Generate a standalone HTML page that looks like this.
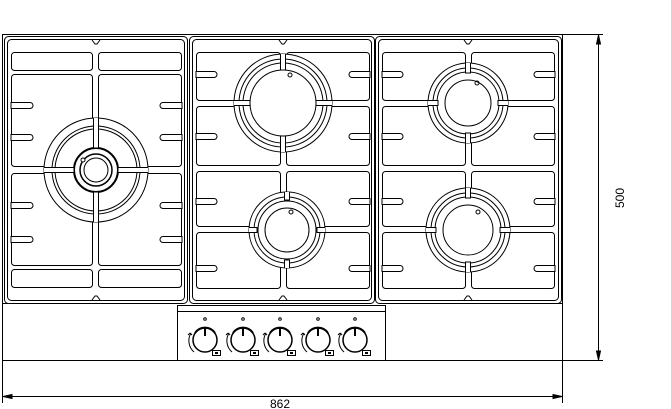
<!DOCTYPE html>
<html><head><meta charset="utf-8"><style>
html,body{margin:0;padding:0;background:#fff;width:671px;height:409px;overflow:hidden}
svg{display:block}
text{font-family:"Liberation Sans",sans-serif;fill:#000}
</style></head><body>
<svg width="671" height="409" viewBox="0 0 671 409" xmlns="http://www.w3.org/2000/svg" fill="none" stroke="#000" stroke-width="1">
<!-- outer frame -->
<rect x="2.5" y="34.5" width="560" height="326"/>
<line x1="2.5" y1="303.5" x2="177" y2="303.5"/>
<line x1="385" y1="303.5" x2="562" y2="303.5"/>
<!-- grate panels -->
<g>
<rect x="4.5" y="36.5" width="183" height="267" rx="4"/>
<rect x="7.5" y="39.5" width="177" height="261" rx="4"/>
<rect x="189.5" y="36.5" width="185" height="267" rx="4"/>
<rect x="192.5" y="39.5" width="179" height="261" rx="4"/>
<rect x="375.5" y="36.5" width="186" height="267" rx="4"/>
<rect x="378.5" y="39.5" width="180" height="261" rx="4"/>
<path d="M92 40 l3 4 h2 l3 -4 M92 300 l3 -4 h2 l3 4 M279 40 l3 4 h2 l3 -4 M279 300 l3 -4 h2 l3 4 M464 40 l3 4 h2 l3 -4 M464 300 l3 -4 h2 l3 4"/>
</g>
<!-- panel 1 cells -->
<g stroke-width="1">
<rect x="11.5" y="52.5" width="81" height="18" rx="3"/>
<rect x="98.5" y="52.5" width="83" height="18" rx="3"/>
<rect x="11.5" y="74.5" width="81" height="92" rx="3"/>
<rect x="98.5" y="74.5" width="83" height="92" rx="3"/>
<rect x="11.5" y="173.5" width="81" height="92" rx="3"/>
<rect x="98.5" y="173.5" width="83" height="92" rx="3"/>
<rect x="11.5" y="269.5" width="81" height="18" rx="3"/>
<rect x="98.5" y="269.5" width="83" height="18" rx="3"/>
</g>
<!-- panel 2 & 3 cells -->
<g>
<rect x="196.5" y="52.5" width="84" height="48" rx="3"/>
<rect x="286.5" y="52.5" width="83" height="48" rx="3"/>
<rect x="196.5" y="106.5" width="84" height="59" rx="3"/>
<rect x="286.5" y="106.5" width="83" height="59" rx="3"/>
<rect x="196.5" y="171.5" width="84" height="55" rx="3"/>
<rect x="286.5" y="171.5" width="83" height="55" rx="3"/>
<rect x="196.5" y="232.5" width="84" height="56" rx="3"/>
<rect x="286.5" y="232.5" width="83" height="56" rx="3"/>
<rect x="382.5" y="52.5" width="83" height="48" rx="3"/>
<rect x="471.5" y="52.5" width="83" height="48" rx="3"/>
<rect x="382.5" y="106.5" width="83" height="59" rx="3"/>
<rect x="471.5" y="106.5" width="83" height="59" rx="3"/>
<rect x="382.5" y="171.5" width="83" height="55" rx="3"/>
<rect x="471.5" y="171.5" width="83" height="55" rx="3"/>
<rect x="382.5" y="232.5" width="83" height="56" rx="3"/>
<rect x="471.5" y="232.5" width="83" height="56" rx="3"/>
</g>
<!-- fingers -->
<g fill="#fff">
<path d="M11 102.5 H30 a3 3 0 0 1 0 6 H11Z M11 134.5 H30 a3 3 0 0 1 0 6 H11Z M11 202.5 H30 a3 3 0 0 1 0 6 H11Z M11 236.5 H30 a3 3 0 0 1 0 6 H11Z"/>
<path d="M182 102.5 H163 a3 3 0 0 0 0 6 H182Z M182 134.5 H163 a3 3 0 0 0 0 6 H182Z M182 202.5 H163 a3 3 0 0 0 0 6 H182Z M182 236.5 H163 a3 3 0 0 0 0 6 H182Z"/>
<path d="M196 71.5 H214 a3 3 0 0 1 0 6 H196Z M196 133.5 H214 a3 3 0 0 1 0 6 H196Z M196 198.5 H214 a3 3 0 0 1 0 6 H196Z M196 265.5 H214 a3 3 0 0 1 0 6 H196Z"/>
<path d="M370 71.5 H352 a3 3 0 0 0 0 6 H370Z M370 133.5 H352 a3 3 0 0 0 0 6 H370Z M370 198.5 H352 a3 3 0 0 0 0 6 H370Z M370 265.5 H352 a3 3 0 0 0 0 6 H370Z"/>
<path d="M382 71.5 H400 a3 3 0 0 1 0 6 H382Z M382 133.5 H400 a3 3 0 0 1 0 6 H382Z M382 198.5 H400 a3 3 0 0 1 0 6 H382Z M382 265.5 H400 a3 3 0 0 1 0 6 H382Z"/>
<path d="M555 71.5 H537 a3 3 0 0 0 0 6 H555Z M555 133.5 H537 a3 3 0 0 0 0 6 H555Z M555 198.5 H537 a3 3 0 0 0 0 6 H555Z M555 265.5 H537 a3 3 0 0 0 0 6 H555Z"/>
</g>
<!-- burners -->
<g fill="#fff">
<circle cx="96" cy="170" r="52"/>
<circle cx="96" cy="170" r="44" fill="none"/>
<circle cx="96" cy="170" r="41" fill="none"/>
<circle cx="96" cy="170" r="22" stroke-width="2"/>
<circle cx="96" cy="170" r="16" stroke-width="1.5"/>
<circle cx="96" cy="170" r="12"/>
<circle cx="83" cy="160" r="2"/>
<path d="M96 118 v30 M96 192 v30 M44 170 h30 M118 170 h30" stroke="#fff" stroke-width="5"/>
<path d="M93.5 118 v30 h5 v-30 M93.5 222 v-30 h5 v30 M44 167.5 h30 v5 h-30 M148 167.5 h-30 v5 h30" fill="none"/>

<circle cx="283" cy="103" r="49"/>
<circle cx="283" cy="103" r="44" fill="none"/>
<circle cx="283" cy="103" r="40" fill="none"/>
<circle cx="283" cy="103" r="33" fill="none"/>
<circle cx="290" cy="75" r="2" fill="none"/>
<path d="M283 54 v16 M283 136 v16 M234 103 h16 M316 103 h16" stroke="#fff" stroke-width="5"/>
<path d="M280.5 54 v16 h5 v-16 M280.5 152 v-16 h5 v16 M234 100.5 h16 v5 h-16 M332 100.5 h-16 v5 h16" fill="none"/>

<circle cx="287" cy="230" r="38"/>
<circle cx="287" cy="230" r="33" fill="none"/>
<circle cx="287" cy="230" r="29" fill="none"/>
<circle cx="287" cy="230" r="22" fill="none"/>
<circle cx="291" cy="212" r="2" fill="none"/>
<path d="M287 192 v8 M287 260 v8 M249 230 h8 M317 230 h8" stroke="#fff" stroke-width="5"/>
<path d="M284.5 192 v8 h5 v-8 M284.5 268 v-8 h5 v8 M249 227.5 h8 v5 h-8 M325 227.5 h-8 v5 h8" fill="none"/>

<circle cx="468" cy="103" r="40"/>
<circle cx="468" cy="103" r="35" fill="none"/>
<circle cx="468" cy="103" r="31" fill="none"/>
<circle cx="468" cy="103" r="23" fill="none"/>
<circle cx="477" cy="83" r="2" fill="none"/>
<path d="M468 63 v10 M468 133 v10 M428 103 h10 M498 103 h10" stroke="#fff" stroke-width="5"/>
<path d="M465.5 63 v10 h5 v-10 M465.5 143 v-10 h5 v10 M428 100.5 h10 v5 h-10 M508 100.5 h-10 v5 h10" fill="none"/>

<circle cx="468" cy="230" r="42"/>
<circle cx="468" cy="230" r="37" fill="none"/>
<circle cx="468" cy="230" r="33" fill="none"/>
<circle cx="468" cy="230" r="25" fill="none"/>
<circle cx="478" cy="212" r="2" fill="none"/>
<path d="M468 188 v10 M468 262 v10 M426 230 h10 M500 230 h10" stroke="#fff" stroke-width="5"/>
<path d="M465.5 188 v10 h5 v-10 M465.5 272 v-10 h5 v10 M426 227.5 h10 v5 h-10 M510 227.5 h-10 v5 h10" fill="none"/>
</g>
<!-- control panel -->
<rect x="177.5" y="305.5" width="208" height="55"/>
<line x1="177.5" y1="311.5" x2="385.5" y2="311.5"/>
<g id="k">
<circle cx="205" cy="340" r="12" stroke-width="1.5"/>
<path d="M195 333 a12 12 0 0 1 20 0" stroke-width="2"/>
<line x1="205" y1="328" x2="205" y2="336" stroke-width="2"/>
<circle cx="205" cy="319" r="1.3"/>
<path d="M191 333 a15 15 0 0 0 3 19" />
<path d="M190 333 l-2 2 M190 333 l2 2"/>
<rect x="212.5" y="350.5" width="8" height="5"/>
<rect x="215" y="352" width="3" height="2" fill="#000" stroke="none"/>
</g>
<use href="#k" x="38"/>
<use href="#k" x="75"/>
<use href="#k" x="113"/>
<use href="#k" x="150"/>
<!-- dimensions -->
<g stroke-width="1">
<line x1="562" y1="34.5" x2="603" y2="34.5"/>
<line x1="562" y1="360.5" x2="603" y2="360.5"/>
<line x1="598.5" y1="35" x2="598.5" y2="360"/>
<path d="M598.5 35 l-2 9 h4z M598.5 360 l-2 -9 h4z" fill="#000"/>
<line x1="2.5" y1="360" x2="2.5" y2="403"/>
<line x1="562.5" y1="360" x2="562.5" y2="403"/>
<line x1="2.5" y1="396.5" x2="562.5" y2="396.5"/>
<path d="M3 396.5 l9 -2 v4z M562 396.5 l-9 -2 v4z" fill="#000"/>
</g>
<text x="280" y="408" font-size="12" text-anchor="middle" stroke="none">862</text>
<text x="0" y="0" font-size="12" text-anchor="middle" stroke="none" transform="translate(624 198) rotate(-90)">500</text>
</svg>
</body></html>
